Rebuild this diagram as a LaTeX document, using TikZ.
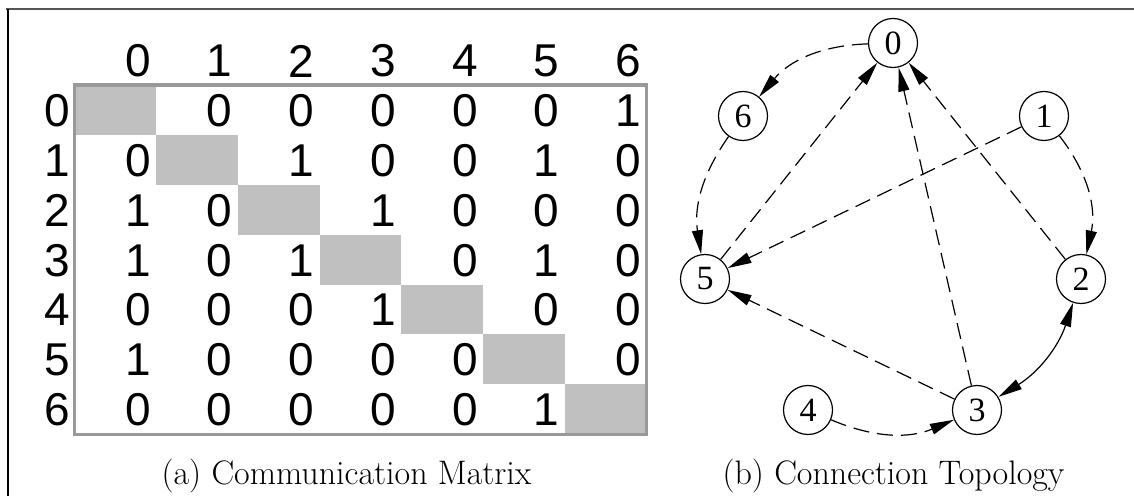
\documentclass[tikz,border=0pt]{standalone}
\usepackage{fontspec}
\newfontfamily\cellfont{Liberation Sans}
\newfontfamily\vertexfont{Liberation Serif}
\usetikzlibrary{arrows.meta}
\definecolor{diaggray}{HTML}{C0C0C0}
\definecolor{gridgray}{HTML}{999999}
\definecolor{framegray}{HTML}{555555}

\begin{document}
\begin{tikzpicture}[x=0.5pt,y=-0.5pt,
  cellnum/.style={font=\cellfont\fontsize{23}{24}\selectfont, inner sep=0pt},
  diagcell/.style={fill=diaggray, draw=none},
  vertex/.style={circle, draw, line width=0.6pt, minimum size=24.5pt, inner sep=0pt,
    font=\vertexfont\fontsize{17}{18}\selectfont},
  link/.style={line width=0.6pt, dash pattern=on 8pt off 4pt, -{Triangle[length=12pt,width=5.5pt]}},
  caption/.style={font=\fontsize{17}{20}\selectfont, inner sep=0pt}
]
\useasboundingbox (0,0) rectangle (1134,496);

% frame lines
\draw[framegray, line width=1pt] (6,9) -- (1134,9);
\draw[black, line width=0.85pt] (8,9) -- (8,496);

% ---- communication matrix ----
\foreach \i in {0,...,6}
  \fill[diagcell] ({74.5+81.7*\i},{85+49.9*\i}) rectangle ++(81.7,49.9);
\draw[gridgray, line width=1.6pt] (74.5,85) rectangle (646.5,434.5);

% column and row headers
\foreach \j in {0,...,6} {
  \node[cellnum] (col-\j) at ({138+81.7*\j},61) {\j};
  \node[cellnum] (row-\j) at (57,{110.5+49.9*\j}) {\j};
}

% entries
\foreach \r/\entries in {
    0/{{},0,0,0,0,0,1},
    1/{0,{},1,0,0,1,0},
    2/{1,0,{},1,0,0,0},
    3/{1,0,1,{},0,1,0},
    4/{0,0,0,1,{},0,0},
    5/{1,0,0,0,0,{},0},
    6/{0,0,0,0,0,1,{}}} {
  \foreach \v [count=\c from 0] in \entries
    \node[cellnum] (m-\r-\c) at ({138+81.7*\c},{110.5+49.9*\r}) {\v};
}

\node[caption] (capa) at (346.5,476) {(a) Communication Matrix};

% ---- connection topology ----
\node[vertex] (n0) at (893,43) {0};
\node[vertex] (n6) at (743,116) {6};
\node[vertex] (n1) at (1044,116) {1};
\node[vertex] (n5) at (705,279) {5};
\node[vertex] (n2) at (1081,279) {2};
\node[vertex] (n4) at (808,410) {4};
\node[vertex] (n3) at (977,410) {3};

\draw[link] (n0) to[bend right=24] (n6);
\draw[link] (n6) to[bend right=22] (n5);
\draw[link] (n1) to[bend left=25] (n2);
\draw[link] (n1) -- (n5);
\draw[link] (n5) -- (n0);
\draw[link] (n2) -- (n0);
\draw[link] (n3) -- (n0);
\draw[link] (n3) -- (n5);
\draw[line width=0.6pt, {Triangle[length=12pt,width=5.5pt]}-{Triangle[length=12pt,width=5.5pt]}] (n2) to[bend left=20] (n3);
\draw[link] (n4) to[bend right=23] (n3);

\node[caption] (capb) at (893.5,476) {(b) Connection Topology};
\end{tikzpicture}
\end{document}
